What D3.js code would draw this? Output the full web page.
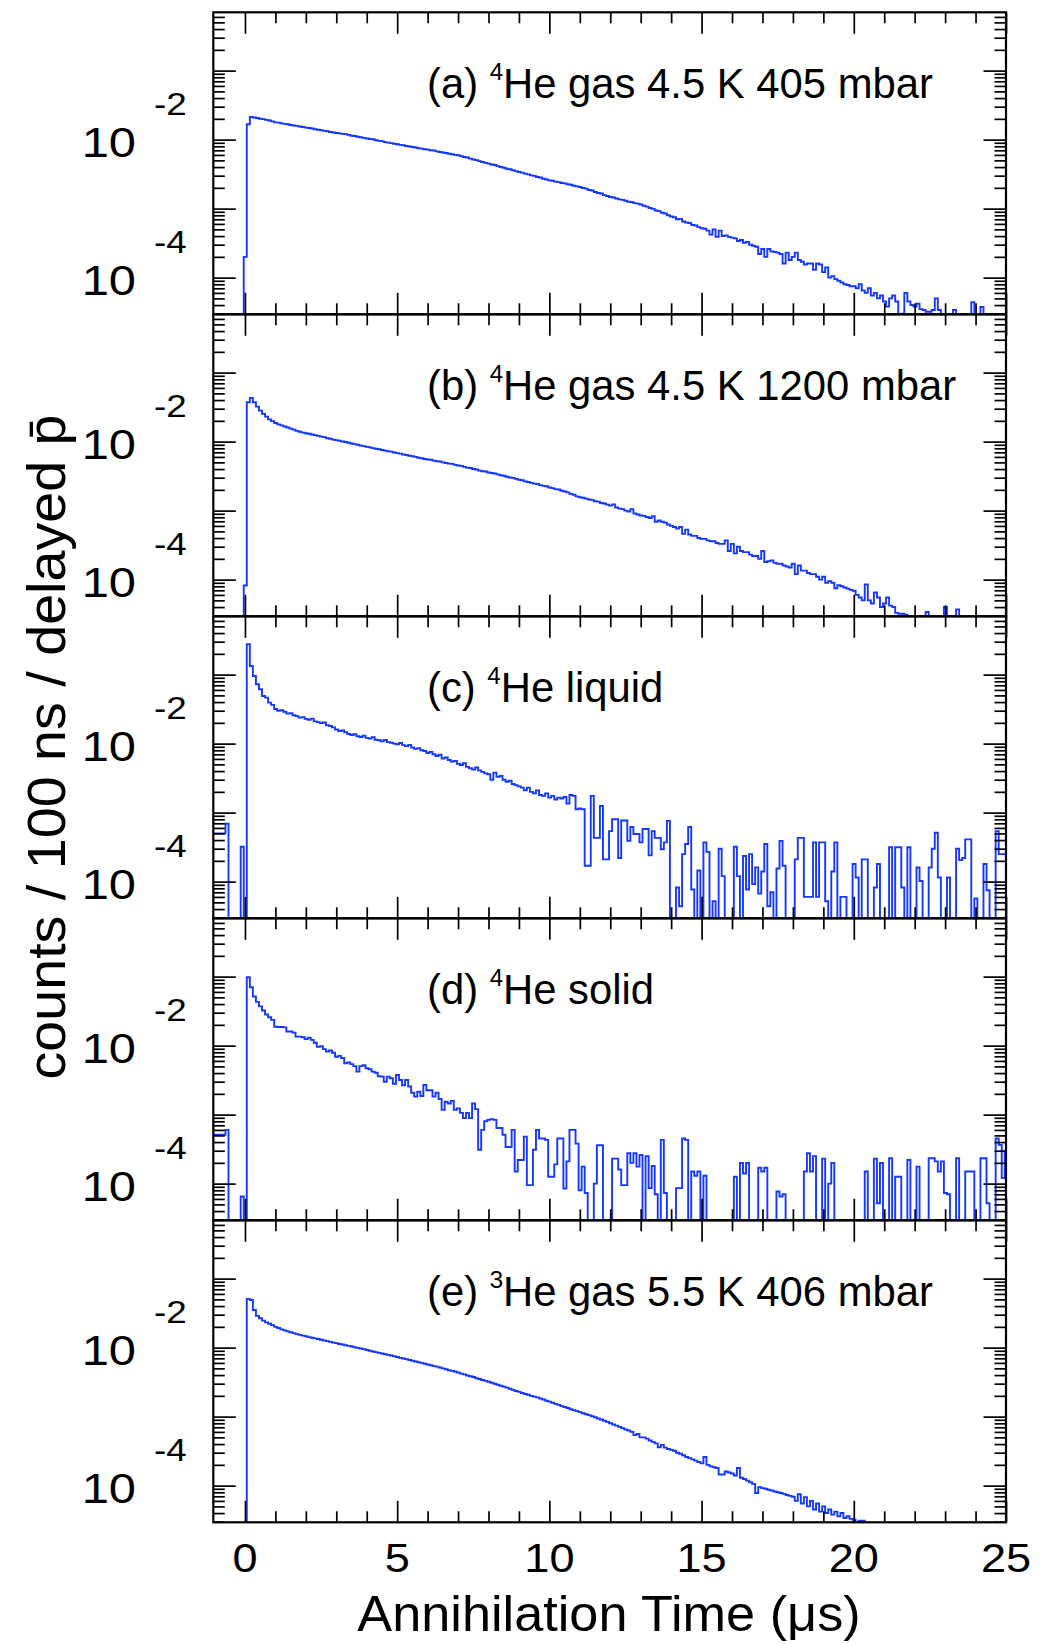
<!DOCTYPE html>
<html><head><meta charset="utf-8">
<script src="https://cdn.jsdelivr.net/npm/d3@7"></script>
<style>
body{margin:0;background:#fff}
text{font-family:"Liberation Sans",Arial,Helvetica,sans-serif;fill:#000}
</style>
</head><body>
<svg id="chart" width="1053" height="1644"></svg>
<script>
// ---------------- data ----------------
// histogram: 100 ns bins starting at -1.04 us; values in units of 1e-4 counts / 100 ns / delayed pbar
const UNIT = 1e-4;
const binStart = -1.04, binWidth = 0.1;
const panelIds = ["a","b","c","d","e"];
const isotopes = ["4","4","4","4","3"];
const conditions = ["He gas 4.5 K 405 mbar","He gas 4.5 K 1200 mbar","He liquid","He solid","He gas 5.5 K 406 mbar"];
const xMajorTicks = [0,5,10,15,20,25];
const yLabelExponents = [-2,-4];

const gas405 = [
0,0,0,0,0,0,0,0,0,0,
2.0,167,213,209,206,201,198,193,189,184,
178,176,172,169,167,163,160,158,155,152,
149,147,145,141,139,137,134,132,129,127,
125,123,121,120,117,114,113,110,108,106,
104,102,101,98,96,95,92,90.5,89,87,
85.5,84,83,81,79.5,78,77,75,74,72.5,
71.6,70,69.5,67.5,66,65,64,62.5,61.5,60,
59.3,57.6,56,55,53,51.5,50.5,48.7,47.4,46,
44.9,43.6,42.8,41.3,40.1,39.2,37.9,37.2,35.9,34.9,
33.9,33.2,32.1,31.4,30.3,29.8,28.7,28.2,27.1,26.4,
25.7,25.3,24.6,24.2,23.5,23.2,22.5,22.2,21.5,21.0,
20.6,19.9,19.5,18.6,18.3,17.4,16.8,16.6,15.7,15.2,
14.7,14.5,14.0,13.6,13.4,13.0,12.6,12.5,12.0,11.8,
11.5,11.0,10.7,10.2,9.9,9.4,9.2,8.7,8.5,8.0,
7.7,7.5,7.0,7.1,6.5,6.3,6.2,5.8,5.7,5.4,
5.2,5.1,4.8,4.2,5.0,3.9,4.8,4.0,4.1,3.9,
3.8,3.7,3.4,3.5,3.2,3.3,3.0,2.9,2.8,2.2,
2.6,2.0,2.6,2.4,2.35,2.3,2.2,1.6,2.3,1.8,
2.0,2.3,1.8,1.7,1.55,1.6,1.6,1.3,1.6,1.55,
1.2,1.4,1.0,1.05,0.95,0.9,0.85,0.8,0.78,0.75,
0.75,0.7,0.8,0.65,0.6,0.7,0.55,0.6,0.5,0.55,
0.45,0.38,0.5,0.55,0.45,0,0.3,0.6,0.45,0.4,
0.38,0.42,0.35,0.34,0.32,0.32,0.34,0.5,0.34,0,
0,0,0,0.34,0,0,0,0,0,0.44,
0,0,0.375,0,0,0,0,0,0,0,0];

const gas1200 = [
0,0,0,0,0,0,0,0,0,0,
0.82,372,430,372,321,281,252,230,210,198,
186,178,172,166,160,154,149,143,139,135,
132,130,127,124,121,118,116,112,110,107,
105,103,100.5,98.5,96.5,94,92,90,87.5,86,
84,82.5,80.5,79,77.5,75.5,74,72.5,71.5,69.5,
68,67,65,64,62.5,61.5,60,58.5,57.5,56,
55,54.5,53,52,51.5,50,49,48,47.5,46,
45,44.5,43,42,41.5,40,39.5,38,37.2,36.8,
35.7,35,34.5,33.5,32.5,32,31,30.2,29.8,28.8,
28,27.5,26.5,26,25.2,24.6,24.3,23.4,22.8,22.5,
21.6,21.2,20.5,20.2,19.4,18.9,18.4,17.5,17,16.1,
15.6,15.4,14.9,14.5,14.3,13.7,13.5,12.9,12.7,12.2,
11.8,12.3,11.1,10.7,10.5,10.0,9.7,10.5,9.1,8.8,
8.5,8.4,8.1,7.8,8.3,6.9,7.2,6.9,6.7,6.3,
6.0,5.8,5.5,5.8,4.6,5.3,4.5,4.3,4.3,4.0,
3.9,3.9,3.7,3.6,3.6,3.4,3.3,3.3,3.7,2.6,
3.3,2.4,3.0,2.6,2.5,2.5,2.3,2.2,2.2,2.0,
2.6,1.8,1.85,1.9,1.75,1.7,1.7,1.6,1.55,1.5,
1.7,1.2,1.6,1.35,1.35,1.25,1.2,1.2,1.1,1.0,
1.1,0.9,0.95,0.9,0.75,0.83,0.8,0.77,0.74,0.71,
0.69,0.6,0.55,0.5,0.85,0.5,0.45,0.65,0.55,0.4,
0.45,0.55,0.42,0.4,0.33,0.32,0.32,0.31,0,0,
0,0,0,0,0.34,0,0,0,0,0,
0.4,0,0,0,0.37,0,0,0,0,0,
0,0,0,0,0,0,0,0,0,0,0];

const liquid = [
5.0,5.0,5.0,5.0,6.9,0,0,0,0,3.2,
0,2760,1336,957,726,614,491,464,393,364,
318,300,305,290,272,276,258,250,238,242,
228,222,230,210,205,198,202,185,180,172,
160,152,155,146,138,133,137,128,125,130,
121,118,124,114,112,108,113,105,103,100,
98,102,95,92,96,88,84,86,80,78,
73,76,70,66,69,61,63,58,55,56,
51,49,52,46,44,42,45,41,39,37,
36,30,38,33,34,30,28,29,26,25,
24,23,21,23,20,19,21,18,17.5,19,
16.5,17.5,15.5,16.5,16.0,16.8,13.5,18,17.5,11.2,
11.5,11.2,1.7,1.7,17.5,4.3,4.3,12.5,2.1,2.1,
5.4,8,8,2.2,7.7,7.7,3.9,6.2,4.9,4.9,
3.7,5.8,5.8,2.4,5.4,4.3,4.3,2.95,3.7,7.6,
0,0,0.82,0.44,2.5,3.5,6.2,0.77,0,1.45,
0,3.7,2.7,0,0.52,0,3.0,1.2,0,0,
0,3.2,1.2,0,2.35,0.77,2.5,0.92,1.6,0.67,
1.4,3.5,0.44,0.7,0,1.55,3.9,1.7,0,0,
0,2.1,4.3,4.3,0.6,0.6,0.6,3.7,0.6,3.7,
3.7,0.52,0,1.4,3.7,0,0.6,0.6,0,0,
1.8,1.15,0,2.1,2.1,0,0,0.82,1.8,0,
0,0,3.15,0,3.15,3.15,0.82,0,3.15,0,
0,1.6,1.02,0,0,1.6,3.0,5.1,1.15,0,
0,1.15,0,0,3.0,2.05,2.2,4.1,4.1,0,
0.57,0,0,1.8,0.75,0,0,5.4,2.5,2.5,2.5];

const solid = [
5.1,5.1,5.1,5.1,6.0,0,0,0,0,0.65,
0,980,702,515,430,370,322,282,258,236,
188,186,186,184,160,160,154,135,135,132,
124,130,121,110,96,98,89,82,85,79,
69,71,66,55.6,57,54,50.5,42,50.5,52,
47,45.5,42,40.5,36,35.5,30,35.5,33.6,28,
37.5,31.8,26.6,31.8,25.5,20.7,18.2,21.4,18.6,27,
22.6,22.6,18.2,20.7,16.8,11.7,15.4,14.5,15.8,11.7,
12.3,10.6,8.9,10.6,8.9,14.5,12,3.1,6.0,8.0,
8.4,8.6,8.4,6.4,6.4,5.1,3.4,3.4,6.0,1.5,
2.2,2.2,4.8,0.95,0.95,3.1,6.0,4.5,4.5,4.3,
1.26,1.26,1.9,4.5,4.5,0.85,2.1,6.0,6.0,3.8,
0.8,1.76,0.73,0,0,1.0,3.6,3.6,0,0,
0,2.3,2.3,1.6,0.95,0.95,2.75,2.0,2.75,1.76,
2.6,0,2.5,0.86,1.8,0.7,0,4.3,0.73,0,
0,0,0.86,0.86,4.5,4.3,0,1.5,1.3,1.5,
0,1.3,0,0,0,0,0,0,0,0,
0,1.26,0,2.0,1.4,2.0,0,0,0,1.7,
1.5,1.7,0,0,0,0.77,0.65,0.7,0,0,
0,0,0,0,1.5,2.75,1.5,2.5,0,0,
2.3,0,1.0,2.0,0,0,0,0,0,0,
0,0,0,0,1.5,0,0,2.3,0.52,2.0,
0,0,2.33,0,1.26,1.26,0,0,2.2,0,
0,1.76,0,0,0,2.33,2.33,2.1,1.5,2.1,
0.73,0.7,0,0,2.33,0,0,1.5,1.5,1.5,
0,0,2.33,2.33,0.52,0,0,4.5,3.64,1.2,3.0];

const he3gas = [
0,0,0,0,0,0,0,0,0,0,
0,508,491,351,288,266,246,232,222,212,
200,192,184,178,172,167,162,157,153,149,
146,142,139,136,133,130,127,124,121,118,
116,113,111,108,106,104,101,99,97,95,
92.5,90,88,86,84,82,80,78.5,77,75,
73,71,69.5,68,66,64.5,63,61.5,60,58.5,
57,55.5,54,53,51.5,50,48.5,47,46,45,
43.5,42,41,39.5,38.5,37.5,36,35,34,33,
32,31,30,29,28,27.2,26.3,25.3,24.4,23.5,
22.8,22,21.3,20.7,20,19.5,19,18.3,17.7,17,
16.5,15.9,15.3,14.8,14.2,13.8,13.3,12.8,12.4,12,
11.6,11.2,10.8,10.5,10.1,9.8,9.4,9.1,8.7,8.4,
8.0,7.7,7.4,7.1,6.8,6.5,6.3,6.0,5.4,5.6,
5.0,5.0,4.8,4.5,4.3,4.1,3.6,3.9,3.55,3.4,
3.3,3.2,3.0,2.9,2.75,2.6,2.5,2.4,2.3,2.2,
2.1,2.6,2.0,1.9,1.85,1.8,1.45,1.45,1.6,1.55,
1.5,1.4,1.8,1.3,1.25,1.18,1.12,1.06,0.78,0.95,
0.92,0.9,0.87,0.85,0.82,0.8,0.78,0.76,0.73,0.71,
0.69,0.6,0.75,0.55,0.68,0.5,0.6,0.45,0.55,0.42,
0.5,0.4,0.45,0.38,0.42,0.36,0.4,0.34,0.36,0.33,
0.32,0,0.31,0.31,0,0,0,0,0,0,
0,0,0,0,0,0,0,0,0,0,
0,0,0,0,0,0,0,0,0,0,
0,0,0,0,0,0,0,0,0,0,
0,0,0,0,0,0,0,0,0,0,0];

const seriesList = [gas405, gas1200, liquid, solid, he3gas];

// ---------------- layout ----------------
const W = 1053, H = 1644;
const LEFT = 213.3, RIGHT = 1006, TOP = 12.3, PH = 302;
const BLUE = "#1538ff";

const svg = d3.select("#chart");
svg.append("rect").attr("width",W).attr("height",H).attr("fill","#fff");

const x = d3.scaleLinear().domain([-1.04, 25]).range([LEFT, RIGHT]);

const yDecades = [1e-4,1e-3,1e-2,1e-1];
const yMinor = [];
for (let e=-5;e<=-1;e++) for (let m=2;m<=9;m++){ const v=m*Math.pow(10,e); if(v>2.94e-5 && v<0.70) yMinor.push(v); }
const xMinor = d3.range(1,25).filter(v=>v%5!==0);

seriesList.forEach((vals, p) => {
  const top = TOP + p*PH, bottom = top + PH;
  const y = d3.scaleLog().domain([2.94e-5, 0.70]).range([bottom, top]).clamp(true);
  const g = svg.append("g");

  const cid = "clip"+p;
  svg.append("clipPath").attr("id",cid).append("rect")
     .attr("x",LEFT).attr("y",top).attr("width",RIGHT-LEFT).attr("height",PH);

  // histogram step path
  let d = "";
  vals.forEach((v,i)=>{
    const x0 = x(binStart + i*binWidth), x1 = x(binStart + (i+1)*binWidth);
    const yy = v>0 ? y(v*UNIT) : bottom + 1;
    d += (i===0 ? `M${x0},${yy}` : `L${x0},${yy}`) + `L${x1},${yy}`;
  });
  g.append("path").attr("d",d).attr("fill","none").attr("stroke",BLUE)
   .attr("stroke-width",1.9).attr("stroke-linejoin","miter").attr("clip-path",`url(#${cid})`);

  // axes (ticks inward, both sides)
  const styleAxis = sel => { sel.select(".domain").remove(); sel.selectAll("line").attr("stroke","#000").attr("stroke-width",1.7); sel.selectAll("text").remove(); };
  g.append("g").attr("transform",`translate(0,${bottom})`).call(d3.axisBottom(x).tickValues(xMajorTicks).tickSize(-21.5)).call(styleAxis);
  g.append("g").attr("transform",`translate(0,${bottom})`).call(d3.axisBottom(x).tickValues(xMinor).tickSize(-11)).call(styleAxis);
  g.append("g").attr("transform",`translate(0,${top})`).call(d3.axisTop(x).tickValues(xMajorTicks).tickSize(-21.5)).call(styleAxis);
  g.append("g").attr("transform",`translate(0,${top})`).call(d3.axisTop(x).tickValues(xMinor).tickSize(-11)).call(styleAxis);
  g.append("g").attr("transform",`translate(${LEFT},0)`).call(d3.axisLeft(y).tickValues(yDecades).tickSize(-22.5)).call(styleAxis);
  g.append("g").attr("transform",`translate(${LEFT},0)`).call(d3.axisLeft(y).tickValues(yMinor).tickSize(-11.5)).call(styleAxis);
  g.append("g").attr("transform",`translate(${RIGHT},0)`).call(d3.axisRight(y).tickValues(yDecades).tickSize(-22.5)).call(styleAxis);
  g.append("g").attr("transform",`translate(${RIGHT},0)`).call(d3.axisRight(y).tickValues(yMinor).tickSize(-11.5)).call(styleAxis);

  // frame
  g.append("rect").attr("x",LEFT).attr("y",top).attr("width",RIGHT-LEFT).attr("height",PH)
   .attr("fill","none").attr("stroke","#000").attr("stroke-width",2.2);

  // y tick labels 10^-2, 10^-4
  yLabelExponents.forEach(ex=>{
    const ty = y(Math.pow(10,ex));
    g.append("text").attr("transform",`translate(136,${ty+17.5}) scale(1.15,1)`)
     .attr("text-anchor","end").attr("font-size",42.5).text("10");
    g.append("text").attr("transform",`translate(154,${ty-24.3}) scale(1.15,1)`)
     .attr("text-anchor","start").attr("font-size",32).text(String(ex));
  });

  // panel label
  const t = g.append("text").attr("x",427).attr("y",top+86).attr("font-size",41.8);
  t.append("tspan").text(`(${panelIds[p]}) `);
  t.append("tspan").attr("font-size",24).attr("dy",-18).text(isotopes[p]);
  t.append("tspan").attr("dy",18).text(conditions[p]);

  // x tick labels on bottom panel
  if (p === seriesList.length-1) {
    xMajorTicks.forEach(v=>{
      g.append("text").attr("transform",`translate(${x(v)},1572) scale(1.1,1)`)
       .attr("text-anchor","middle").attr("font-size",41).text(String(v));
    });
  }
});

// axis titles
svg.append("text").attr("transform","translate(609,1631) scale(1.045,1)").attr("text-anchor","middle")
   .attr("font-size",50).text("Annihilation Time (\u03bcs)");
svg.append("text").attr("transform","translate(65,747) rotate(-90) scale(1.05,1)")
   .attr("text-anchor","middle").attr("font-size",53)
   .text("counts / 100 ns / delayed p\u0304");
</script>
</body></html>
